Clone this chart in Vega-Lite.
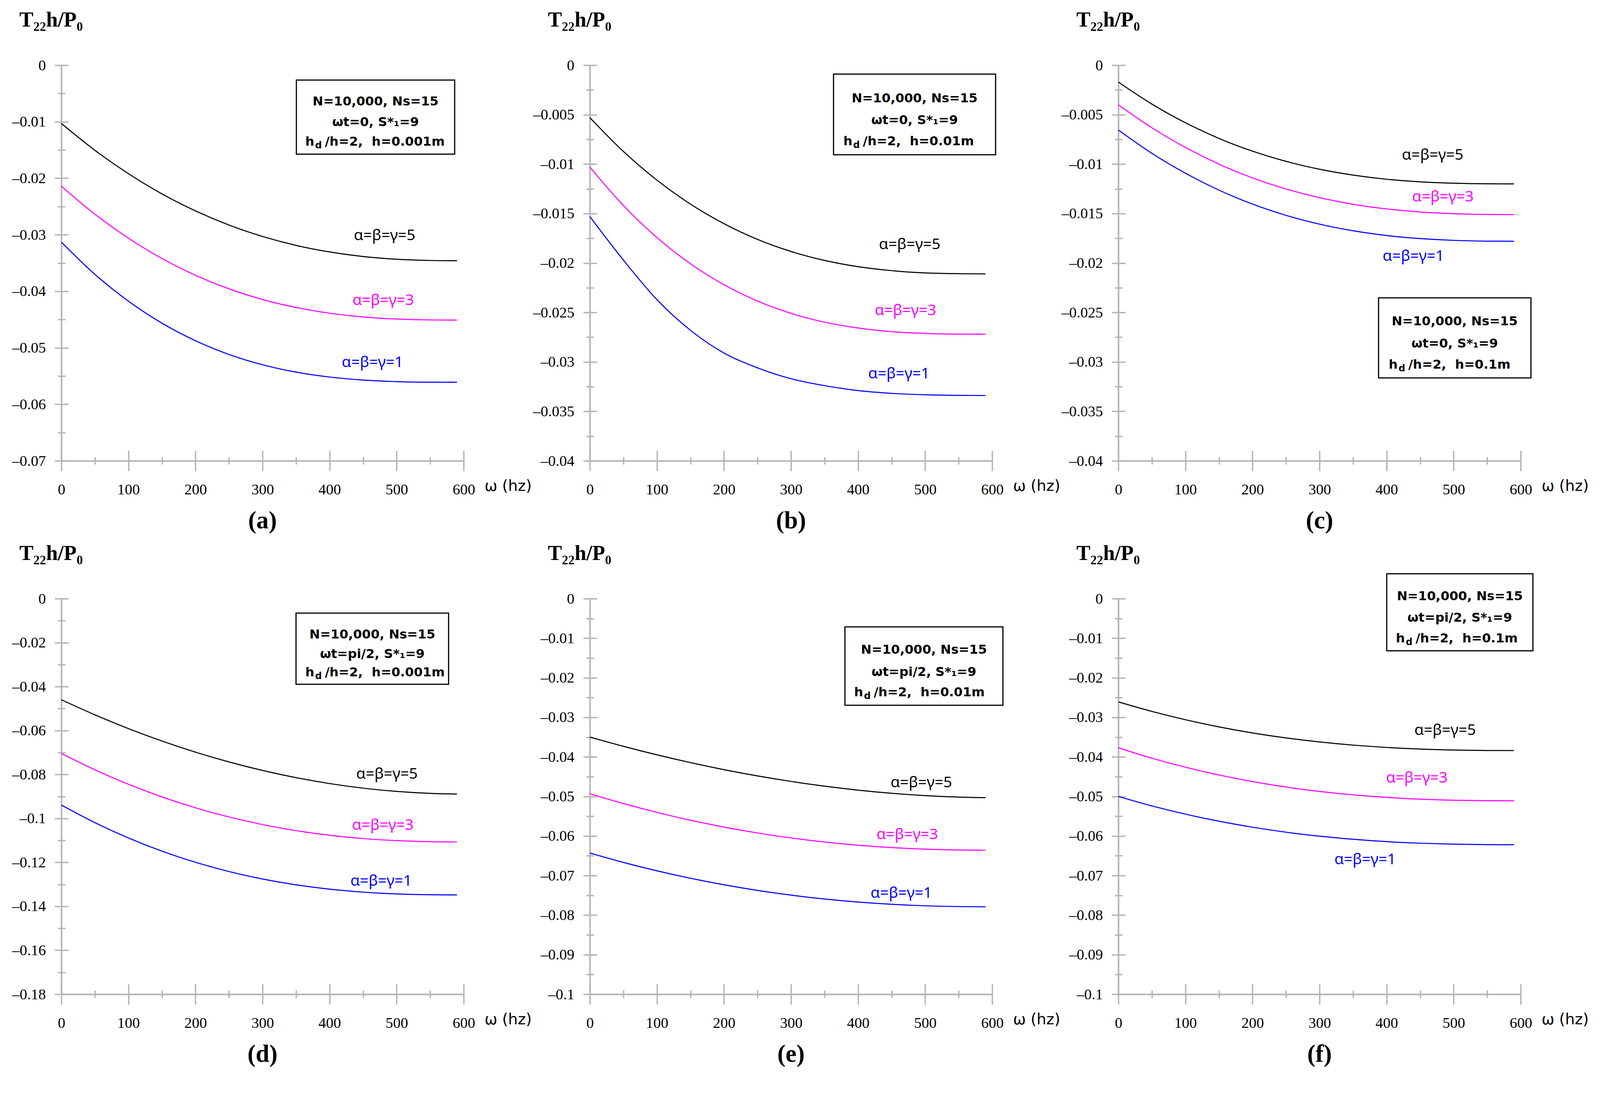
{
"$schema":"https://vega.github.io/schema/vega-lite/v6.json",
"background":"white",
"padding":{"left":30,"top":24,"right":0,"bottom":0},
"columns":3,
"bounds":"flush",
"spacing":{"row":353,"column":323},
"datasets":{
"curves":[
{"p":"a","x":0,"g5":-0.0103,"g3":-0.0214,"g1":-0.0313},
{"p":"a","x":50,"g5":-0.01505,"g3":-0.02636,"g1":-0.037},
{"p":"a","x":100,"g5":-0.01919,"g3":-0.03061,"g1":-0.04175},
{"p":"a","x":150,"g5":-0.02277,"g3":-0.0342,"g1":-0.04564},
{"p":"a","x":200,"g5":-0.02578,"g3":-0.03717,"g1":-0.04875},
{"p":"a","x":250,"g5":-0.02828,"g3":-0.03957,"g1":-0.05118},
{"p":"a","x":300,"g5":-0.0303,"g3":-0.04145,"g1":-0.053},
{"p":"a","x":350,"g5":-0.03188,"g3":-0.04287,"g1":-0.05431},
{"p":"a","x":400,"g5":-0.03304,"g3":-0.04388,"g1":-0.05518},
{"p":"a","x":450,"g5":-0.03385,"g3":-0.04454,"g1":-0.05571},
{"p":"a","x":500,"g5":-0.03433,"g3":-0.04491,"g1":-0.05599},
{"p":"a","x":550,"g5":-0.03455,"g3":-0.04507,"g1":-0.05609},
{"p":"a","x":590,"g5":-0.0346,"g3":-0.0451,"g1":-0.0561},
{"p":"b","x":0,"g5":-0.0053,"g3":-0.0103,"g1":-0.0153},
{"p":"b","x":50,"g5":-0.00872,"g3":-0.01418,"g1":-0.0197},
{"p":"b","x":100,"g5":-0.01162,"g3":-0.01742,"g1":-0.0237},
{"p":"b","x":150,"g5":-0.01404,"g3":-0.02007,"g1":-0.0268},
{"p":"b","x":200,"g5":-0.01602,"g3":-0.02219,"g1":-0.0291},
{"p":"b","x":250,"g5":-0.01761,"g3":-0.02385,"g1":-0.0306},
{"p":"b","x":300,"g5":-0.01883,"g3":-0.02509,"g1":-0.0317},
{"p":"b","x":350,"g5":-0.01974,"g3":-0.02598,"g1":-0.0324},
{"p":"b","x":400,"g5":-0.02037,"g3":-0.02657,"g1":-0.0329},
{"p":"b","x":450,"g5":-0.02077,"g3":-0.02694,"g1":-0.03318},
{"p":"b","x":500,"g5":-0.021,"g3":-0.02712,"g1":-0.03332},
{"p":"b","x":550,"g5":-0.02108,"g3":-0.02719,"g1":-0.03338},
{"p":"b","x":590,"g5":-0.0211,"g3":-0.0272,"g1":-0.0334},
{"p":"c","x":0,"g5":-0.0017,"g3":-0.004,"g1":-0.00655},
{"p":"c","x":50,"g5":-0.00393,"g3":-0.00632,"g1":-0.00891},
{"p":"c","x":100,"g5":-0.00582,"g3":-0.00831,"g1":-0.01092},
{"p":"c","x":150,"g5":-0.0074,"g3":-0.01,"g1":-0.01263},
{"p":"c","x":200,"g5":-0.00869,"g3":-0.01139,"g1":-0.01404},
{"p":"c","x":250,"g5":-0.00972,"g3":-0.01251,"g1":-0.01518},
{"p":"c","x":300,"g5":-0.01052,"g3":-0.01339,"g1":-0.01607},
{"p":"c","x":350,"g5":-0.01111,"g3":-0.01406,"g1":-0.01674},
{"p":"c","x":400,"g5":-0.01153,"g3":-0.01453,"g1":-0.01722},
{"p":"c","x":450,"g5":-0.01179,"g3":-0.01484,"g1":-0.01753},
{"p":"c","x":500,"g5":-0.01193,"g3":-0.01501,"g1":-0.01771},
{"p":"c","x":550,"g5":-0.01199,"g3":-0.01509,"g1":-0.01779},
{"p":"c","x":590,"g5":-0.012,"g3":-0.0151,"g1":-0.0178},
{"p":"d","x":0,"g5":-0.046,"g3":-0.0704,"g1":-0.0939},
{"p":"d","x":50,"g5":-0.05285,"g3":-0.07786,"g1":-0.1019},
{"p":"d","x":100,"g5":-0.05911,"g3":-0.08445,"g1":-0.10887},
{"p":"d","x":150,"g5":-0.06477,"g3":-0.0902,"g1":-0.11488},
{"p":"d","x":200,"g5":-0.06984,"g3":-0.09516,"g1":-0.11995},
{"p":"d","x":250,"g5":-0.0743,"g3":-0.09934,"g1":-0.12417},
{"p":"d","x":300,"g5":-0.07817,"g3":-0.10279,"g1":-0.12756},
{"p":"d","x":350,"g5":-0.08145,"g3":-0.10555,"g1":-0.13022},
{"p":"d","x":400,"g5":-0.08413,"g3":-0.10765,"g1":-0.13218},
{"p":"d","x":450,"g5":-0.08622,"g3":-0.10915,"g1":-0.13353},
{"p":"d","x":500,"g5":-0.08771,"g3":-0.1101,"g1":-0.13434},
{"p":"d","x":550,"g5":-0.0886,"g3":-0.11058,"g1":-0.13472},
{"p":"d","x":590,"g5":-0.0889,"g3":-0.1107,"g1":-0.1348},
{"p":"e","x":0,"g5":-0.035,"g3":-0.0493,"g1":-0.0643},
{"p":"e","x":50,"g5":-0.03733,"g3":-0.05179,"g1":-0.06667},
{"p":"e","x":100,"g5":-0.03948,"g3":-0.05402,"g1":-0.06879},
{"p":"e","x":150,"g5":-0.04144,"g3":-0.05601,"g1":-0.07068},
{"p":"e","x":200,"g5":-0.04322,"g3":-0.05774,"g1":-0.07233},
{"p":"e","x":250,"g5":-0.04481,"g3":-0.05923,"g1":-0.07375},
{"p":"e","x":300,"g5":-0.0462,"g3":-0.06049,"g1":-0.07494},
{"p":"e","x":350,"g5":-0.0474,"g3":-0.06152,"g1":-0.07592},
{"p":"e","x":400,"g5":-0.0484,"g3":-0.06232,"g1":-0.07669},
{"p":"e","x":450,"g5":-0.0492,"g3":-0.06292,"g1":-0.07726},
{"p":"e","x":500,"g5":-0.04979,"g3":-0.06332,"g1":-0.07764},
{"p":"e","x":550,"g5":-0.05016,"g3":-0.06354,"g1":-0.07784},
{"p":"e","x":590,"g5":-0.0503,"g3":-0.0636,"g1":-0.0779},
{"p":"f","x":0,"g5":-0.0261,"g3":-0.0377,"g1":-0.05},
{"p":"f","x":50,"g5":-0.0285,"g3":-0.04032,"g1":-0.05239},
{"p":"f","x":100,"g5":-0.0306,"g3":-0.0426,"g1":-0.05447},
{"p":"f","x":150,"g5":-0.03241,"g3":-0.04457,"g1":-0.05626},
{"p":"f","x":200,"g5":-0.03394,"g3":-0.04624,"g1":-0.05777},
{"p":"f","x":250,"g5":-0.0352,"g3":-0.04762,"g1":-0.05903},
{"p":"f","x":300,"g5":-0.03622,"g3":-0.04873,"g1":-0.06004},
{"p":"f","x":350,"g5":-0.03702,"g3":-0.0496,"g1":-0.06083},
{"p":"f","x":400,"g5":-0.03761,"g3":-0.05024,"g1":-0.06142},
{"p":"f","x":450,"g5":-0.03802,"g3":-0.05068,"g1":-0.06182},
{"p":"f","x":500,"g5":-0.03826,"g3":-0.05095,"g1":-0.06206},
{"p":"f","x":550,"g5":-0.03838,"g3":-0.05107,"g1":-0.06218},
{"p":"f","x":590,"g5":-0.0384,"g3":-0.0511,"g1":-0.0622}
],
"labels":[
{"p":"a","s":"g5","t":"α=β=γ=5","x":482,"y":-0.0301},
{"p":"a","s":"g3","t":"α=β=γ=3","x":480,"y":-0.0416},
{"p":"a","s":"g1","t":"α=β=γ=1","x":464,"y":-0.0526},
{"p":"b","s":"g5","t":"α=β=γ=5","x":476.9,"y":-0.01813},
{"p":"b","s":"g3","t":"α=β=γ=3","x":470.7,"y":-0.0248},
{"p":"b","s":"g1","t":"α=β=γ=1","x":461,"y":-0.03119},
{"p":"c","s":"g5","t":"α=β=γ=5","x":468.7,"y":-0.0091},
{"p":"c","s":"g3","t":"α=β=γ=3","x":484,"y":-0.01331},
{"p":"c","s":"g1","t":"α=β=γ=1","x":440,"y":-0.01931},
{"p":"d","s":"g5","t":"α=β=γ=5","x":485.6,"y":-0.0797},
{"p":"d","s":"g3","t":"α=β=γ=3","x":479.4,"y":-0.103},
{"p":"d","s":"g1","t":"α=β=γ=1","x":476.9,"y":-0.1285},
{"p":"e","s":"g5","t":"α=β=γ=5","x":494.3,"y":-0.0465},
{"p":"e","s":"g3","t":"α=β=γ=3","x":473.3,"y":-0.0596},
{"p":"e","s":"g1","t":"α=β=γ=1","x":464.5,"y":-0.0744},
{"p":"f","s":"g5","t":"α=β=γ=5","x":487.3,"y":-0.0333},
{"p":"f","s":"g3","t":"α=β=γ=3","x":445,"y":-0.0453},
{"p":"f","s":"g1","t":"α=β=γ=1","x":368,"y":-0.0659}
],
"boxes":[
{"p":"a","x1":350.5,"x2":586.6,"y1":-0.00262,"y2":-0.01573},
{"p":"b","x1":363.4,"x2":605.1,"y1":-0.0009,"y2":-0.00905},
{"p":"c","x1":388,"x2":615.3,"y1":-0.02352,"y2":-0.03162},
{"p":"d","x1":350,"x2":577.5,"y1":-0.00657,"y2":-0.03897},
{"p":"e","x1":380.4,"x2":616,"y1":-0.00713,"y2":-0.02696},
{"p":"f","x1":400.2,"x2":618.2,"y1":0.00629,"y2":-0.01317}
],
"boxtext":[
{"p":"a","x":468.6,"y":-0.00646,"t":"N=10,000, Ns=15"},
{"p":"a","x":468.6,"y":-0.01012,"t":"ωt=0, S*₁=9"},
{"p":"b","x":484.3,"y":-0.00335,"t":"N=10,000, Ns=15"},
{"p":"b","x":484.3,"y":-0.00556,"t":"ωt=0, S*₁=9"},
{"p":"c","x":501.6,"y":-0.02589,"t":"N=10,000, Ns=15"},
{"p":"c","x":501.6,"y":-0.02814,"t":"ωt=0, S*₁=9"},
{"p":"d","x":463.8,"y":-0.01628,"t":"N=10,000, Ns=15"},
{"p":"d","x":463.8,"y":-0.0252,"t":"ωt=pi/2, S*₁=9"},
{"p":"e","x":498.2,"y":-0.01296,"t":"N=10,000, Ns=15"},
{"p":"e","x":498.2,"y":-0.01852,"t":"ωt=pi/2, S*₁=9"},
{"p":"f","x":509.2,"y":0.0006,"t":"N=10,000, Ns=15"},
{"p":"f","x":509.2,"y":-0.00484,"t":"ωt=pi/2, S*₁=9"}
],
"line3":[
{"p":"a","x":377.3,"y":-0.01354,"t":"/h=2,\u00a0 h=0.001m"},
{"p":"b","x":391.5,"y":-0.0077,"t":"/h=2,\u00a0 h=0.01m"},
{"p":"c","x":416.6,"y":-0.03027,"t":"/h=2,\u00a0 h=0.1m"},
{"p":"d","x":377.3,"y":-0.03365,"t":"/h=2,\u00a0 h=0.001m"},
{"p":"e","x":407.6,"y":-0.02374,"t":"/h=2,\u00a0 h=0.01m"},
{"p":"f","x":427.4,"y":-0.01011,"t":"/h=2,\u00a0 h=0.1m"}
]
},
"concat":[
{"width":1030,"height":1013,"title":{"text":"(a)","orient":"bottom"},
"layer":[
{"data":{"name":"curves"},"transform":[{"filter":"datum.p=='a'"},{"fold":["g5","g3","g1"],"as":["s","y"]}],"mark":{"type":"line","strokeWidth":2.7,"interpolate":"monotone"},
"encoding":{"x":{"field":"x","type":"quantitative","scale":{"domain":[0,600],"nice":false},"axis":{"orient":"bottom","values":[0,100,200,300,400,500,600],"ticks":false,"tickSize":0,"format":"d","title":"ω (hz)","titleFont":"DejaVu Sans","titleFontSize":39,"titleFontWeight":"normal","titleAlign":"left","titleBaseline":"alphabetic","titleX":1083,"titleY":76}},
"y":{"field":"y","type":"quantitative","scale":{"domain":[-0.07,0],"nice":false,"zero":false},"axis":{"orient":"left","values":[0,-0.01,-0.02,-0.03,-0.04,-0.05,-0.06,-0.07],"ticks":false,"tickSize":0,"labelExpr":"datum.value == 0 ? '0' : '–' + format(abs(datum.value), '~g')","title":"T₂₂h/P₀","titleFont":"Liberation Serif","titleFontWeight":"bold","titleFontSize":54,"titleAngle":0,"titleAlign":"left","titleBaseline":"alphabetic","titleX":-108,"titleY":-100}},
"color":{"field":"s","type":"nominal","scale":{"domain":["g5","g3","g1"],"range":["#000000","#ff00ff","#0000ff"]},"legend":null}}},
{"data":{"name":"labels"},"transform":[{"filter":"datum.p=='a'"}],"mark":{"type":"text","font":"Noto Sans","fontSize":39},
"encoding":{"x":{"field":"x","type":"quantitative","scale":{"domain":[0,600],"nice":false},"axis":{"orient":"bottom","values":[0,100,200,300,400,500,600],"offset":-26,"tickSize":52,"domain":false,"labels":false,"title":null}},
"y":{"field":"y","type":"quantitative","scale":{"domain":[-0.07,0],"nice":false,"zero":false},"axis":{"orient":"left","values":[0,-0.01,-0.02,-0.03,-0.04,-0.05,-0.06,-0.07],"offset":-18,"tickSize":35,"domain":false,"labels":false,"title":null}},
"text":{"field":"t"},
"color":{"field":"s","type":"nominal","scale":{"domain":["g5","g3","g1"],"range":["#000000","#ff00ff","#0000ff"]},"legend":null}}},
{"data":{"name":"boxes"},"transform":[{"filter":"datum.p=='a'"}],"mark":{"type":"rect","filled":false,"stroke":"black","strokeWidth":3},
"encoding":{"x":{"field":"x1","type":"quantitative","scale":{"domain":[0,600],"nice":false},"axis":{"orient":"bottom","values":[50,150,250,350,450,550],"offset":-10,"tickSize":19,"domain":false,"labels":false,"title":null}},"x2":{"field":"x2"},
"y":{"field":"y1","type":"quantitative","scale":{"domain":[-0.07,0],"nice":false,"zero":false},"axis":{"orient":"left","values":[-0.005,-0.015,-0.025,-0.035,-0.045,-0.055,-0.065],"offset":-10,"tickSize":19,"domain":false,"labels":false,"title":null}},"y2":{"field":"y2"}}},
{"data":{"name":"boxtext"},"transform":[{"filter":"datum.p=='a'"}],"mark":{"type":"text","font":"DejaVu Sans","fontWeight":"bold","fontSize":32.5,"color":"black"},
"encoding":{"x":{"field":"x","type":"quantitative","axis":null},"y":{"field":"y","type":"quantitative","axis":null},"text":{"field":"t"}}},
{"data":{"name":"line3"},"transform":[{"filter":"datum.p=='a'"}],"mark":{"type":"text","font":"DejaVu Sans","fontWeight":"bold","fontSize":32.5,"color":"black","align":"right","text":"h"},
"encoding":{"x":{"field":"x","type":"quantitative","axis":null},"y":{"field":"y","type":"quantitative","axis":null}}},
{"data":{"name":"line3"},"transform":[{"filter":"datum.p=='a'"}],"mark":{"type":"text","font":"DejaVu Sans","fontWeight":"bold","fontSize":24,"color":"black","align":"left","dx":2,"dy":10,"text":"d"},
"encoding":{"x":{"field":"x","type":"quantitative","axis":null},"y":{"field":"y","type":"quantitative","axis":null}}},
{"data":{"name":"line3"},"transform":[{"filter":"datum.p=='a'"}],"mark":{"type":"text","font":"DejaVu Sans","fontWeight":"bold","fontSize":32.5,"color":"black","align":"left","dx":27},
"encoding":{"x":{"field":"x","type":"quantitative","axis":null},"y":{"field":"y","type":"quantitative","axis":null},"text":{"field":"t"}}}
],
"resolve":{"axis":{"x":"independent","y":"independent"}}},

{"width":1030,"height":1013,"title":{"text":"(b)","orient":"bottom"},
"layer":[
{"data":{"name":"curves"},"transform":[{"filter":"datum.p=='b'"},{"fold":["g5","g3","g1"],"as":["s","y"]}],"mark":{"type":"line","strokeWidth":2.7,"interpolate":"monotone"},
"encoding":{"x":{"field":"x","type":"quantitative","scale":{"domain":[0,600],"nice":false},"axis":{"orient":"bottom","values":[0,100,200,300,400,500,600],"ticks":false,"tickSize":0,"format":"d","title":"ω (hz)","titleFont":"DejaVu Sans","titleFontSize":39,"titleFontWeight":"normal","titleAlign":"left","titleBaseline":"alphabetic","titleX":1083,"titleY":76}},
"y":{"field":"y","type":"quantitative","scale":{"domain":[-0.04,0],"nice":false,"zero":false},"axis":{"orient":"left","values":[0,-0.005,-0.01,-0.015,-0.02,-0.025,-0.03,-0.035,-0.04],"ticks":false,"tickSize":0,"labelExpr":"datum.value == 0 ? '0' : '–' + format(abs(datum.value), '~g')","title":"T₂₂h/P₀","titleFont":"Liberation Serif","titleFontWeight":"bold","titleFontSize":54,"titleAngle":0,"titleAlign":"left","titleBaseline":"alphabetic","titleX":-108,"titleY":-100}},
"color":{"field":"s","type":"nominal","scale":{"domain":["g5","g3","g1"],"range":["#000000","#ff00ff","#0000ff"]},"legend":null}}},
{"data":{"name":"labels"},"transform":[{"filter":"datum.p=='b'"}],"mark":{"type":"text","font":"Noto Sans","fontSize":39},
"encoding":{"x":{"field":"x","type":"quantitative","scale":{"domain":[0,600],"nice":false},"axis":{"orient":"bottom","values":[0,100,200,300,400,500,600],"offset":-26,"tickSize":52,"domain":false,"labels":false,"title":null}},
"y":{"field":"y","type":"quantitative","scale":{"domain":[-0.04,0],"nice":false,"zero":false},"axis":{"orient":"left","values":[0,-0.005,-0.01,-0.015,-0.02,-0.025,-0.03,-0.035,-0.04],"offset":-18,"tickSize":35,"domain":false,"labels":false,"title":null}},
"text":{"field":"t"},
"color":{"field":"s","type":"nominal","scale":{"domain":["g5","g3","g1"],"range":["#000000","#ff00ff","#0000ff"]},"legend":null}}},
{"data":{"name":"boxes"},"transform":[{"filter":"datum.p=='b'"}],"mark":{"type":"rect","filled":false,"stroke":"black","strokeWidth":3},
"encoding":{"x":{"field":"x1","type":"quantitative","scale":{"domain":[0,600],"nice":false},"axis":{"orient":"bottom","values":[50,150,250,350,450,550],"offset":-10,"tickSize":19,"domain":false,"labels":false,"title":null}},"x2":{"field":"x2"},
"y":{"field":"y1","type":"quantitative","scale":{"domain":[-0.04,0],"nice":false,"zero":false},"axis":{"orient":"left","values":[-0.0025,-0.0075,-0.0125,-0.0175,-0.0225,-0.0275,-0.0325,-0.0375],"offset":-10,"tickSize":19,"domain":false,"labels":false,"title":null}},"y2":{"field":"y2"}}},
{"data":{"name":"boxtext"},"transform":[{"filter":"datum.p=='b'"}],"mark":{"type":"text","font":"DejaVu Sans","fontWeight":"bold","fontSize":32.5,"color":"black"},
"encoding":{"x":{"field":"x","type":"quantitative","axis":null},"y":{"field":"y","type":"quantitative","axis":null},"text":{"field":"t"}}},
{"data":{"name":"line3"},"transform":[{"filter":"datum.p=='b'"}],"mark":{"type":"text","font":"DejaVu Sans","fontWeight":"bold","fontSize":32.5,"color":"black","align":"right","text":"h"},
"encoding":{"x":{"field":"x","type":"quantitative","axis":null},"y":{"field":"y","type":"quantitative","axis":null}}},
{"data":{"name":"line3"},"transform":[{"filter":"datum.p=='b'"}],"mark":{"type":"text","font":"DejaVu Sans","fontWeight":"bold","fontSize":24,"color":"black","align":"left","dx":2,"dy":10,"text":"d"},
"encoding":{"x":{"field":"x","type":"quantitative","axis":null},"y":{"field":"y","type":"quantitative","axis":null}}},
{"data":{"name":"line3"},"transform":[{"filter":"datum.p=='b'"}],"mark":{"type":"text","font":"DejaVu Sans","fontWeight":"bold","fontSize":32.5,"color":"black","align":"left","dx":27},
"encoding":{"x":{"field":"x","type":"quantitative","axis":null},"y":{"field":"y","type":"quantitative","axis":null},"text":{"field":"t"}}}
],
"resolve":{"axis":{"x":"independent","y":"independent"}}},

{"width":1030,"height":1013,"title":{"text":"(c)","orient":"bottom"},
"layer":[
{"data":{"name":"curves"},"transform":[{"filter":"datum.p=='c'"},{"fold":["g5","g3","g1"],"as":["s","y"]}],"mark":{"type":"line","strokeWidth":2.7,"interpolate":"monotone"},
"encoding":{"x":{"field":"x","type":"quantitative","scale":{"domain":[0,600],"nice":false},"axis":{"orient":"bottom","values":[0,100,200,300,400,500,600],"ticks":false,"tickSize":0,"format":"d","title":"ω (hz)","titleFont":"DejaVu Sans","titleFontSize":39,"titleFontWeight":"normal","titleAlign":"left","titleBaseline":"alphabetic","titleX":1083,"titleY":76}},
"y":{"field":"y","type":"quantitative","scale":{"domain":[-0.04,0],"nice":false,"zero":false},"axis":{"orient":"left","values":[0,-0.005,-0.01,-0.015,-0.02,-0.025,-0.03,-0.035,-0.04],"ticks":false,"tickSize":0,"labelExpr":"datum.value == 0 ? '0' : '–' + format(abs(datum.value), '~g')","title":"T₂₂h/P₀","titleFont":"Liberation Serif","titleFontWeight":"bold","titleFontSize":54,"titleAngle":0,"titleAlign":"left","titleBaseline":"alphabetic","titleX":-108,"titleY":-100}},
"color":{"field":"s","type":"nominal","scale":{"domain":["g5","g3","g1"],"range":["#000000","#ff00ff","#0000ff"]},"legend":null}}},
{"data":{"name":"labels"},"transform":[{"filter":"datum.p=='c'"}],"mark":{"type":"text","font":"Noto Sans","fontSize":39},
"encoding":{"x":{"field":"x","type":"quantitative","scale":{"domain":[0,600],"nice":false},"axis":{"orient":"bottom","values":[0,100,200,300,400,500,600],"offset":-26,"tickSize":52,"domain":false,"labels":false,"title":null}},
"y":{"field":"y","type":"quantitative","scale":{"domain":[-0.04,0],"nice":false,"zero":false},"axis":{"orient":"left","values":[0,-0.005,-0.01,-0.015,-0.02,-0.025,-0.03,-0.035,-0.04],"offset":-18,"tickSize":35,"domain":false,"labels":false,"title":null}},
"text":{"field":"t"},
"color":{"field":"s","type":"nominal","scale":{"domain":["g5","g3","g1"],"range":["#000000","#ff00ff","#0000ff"]},"legend":null}}},
{"data":{"name":"boxes"},"transform":[{"filter":"datum.p=='c'"}],"mark":{"type":"rect","filled":false,"stroke":"black","strokeWidth":3},
"encoding":{"x":{"field":"x1","type":"quantitative","scale":{"domain":[0,600],"nice":false},"axis":{"orient":"bottom","values":[50,150,250,350,450,550],"offset":-10,"tickSize":19,"domain":false,"labels":false,"title":null}},"x2":{"field":"x2"},
"y":{"field":"y1","type":"quantitative","scale":{"domain":[-0.04,0],"nice":false,"zero":false},"axis":{"orient":"left","values":[-0.0025,-0.0075,-0.0125,-0.0175,-0.0225,-0.0275,-0.0325,-0.0375],"offset":-10,"tickSize":19,"domain":false,"labels":false,"title":null}},"y2":{"field":"y2"}}},
{"data":{"name":"boxtext"},"transform":[{"filter":"datum.p=='c'"}],"mark":{"type":"text","font":"DejaVu Sans","fontWeight":"bold","fontSize":32.5,"color":"black"},
"encoding":{"x":{"field":"x","type":"quantitative","axis":null},"y":{"field":"y","type":"quantitative","axis":null},"text":{"field":"t"}}},
{"data":{"name":"line3"},"transform":[{"filter":"datum.p=='c'"}],"mark":{"type":"text","font":"DejaVu Sans","fontWeight":"bold","fontSize":32.5,"color":"black","align":"right","text":"h"},
"encoding":{"x":{"field":"x","type":"quantitative","axis":null},"y":{"field":"y","type":"quantitative","axis":null}}},
{"data":{"name":"line3"},"transform":[{"filter":"datum.p=='c'"}],"mark":{"type":"text","font":"DejaVu Sans","fontWeight":"bold","fontSize":24,"color":"black","align":"left","dx":2,"dy":10,"text":"d"},
"encoding":{"x":{"field":"x","type":"quantitative","axis":null},"y":{"field":"y","type":"quantitative","axis":null}}},
{"data":{"name":"line3"},"transform":[{"filter":"datum.p=='c'"}],"mark":{"type":"text","font":"DejaVu Sans","fontWeight":"bold","fontSize":32.5,"color":"black","align":"left","dx":27},
"encoding":{"x":{"field":"x","type":"quantitative","axis":null},"y":{"field":"y","type":"quantitative","axis":null},"text":{"field":"t"}}}
],
"resolve":{"axis":{"x":"independent","y":"independent"}}},

{"width":1030,"height":1013,"title":{"text":"(d)","orient":"bottom"},
"layer":[
{"data":{"name":"curves"},"transform":[{"filter":"datum.p=='d'"},{"fold":["g5","g3","g1"],"as":["s","y"]}],"mark":{"type":"line","strokeWidth":2.7,"interpolate":"monotone"},
"encoding":{"x":{"field":"x","type":"quantitative","scale":{"domain":[0,600],"nice":false},"axis":{"orient":"bottom","values":[0,100,200,300,400,500,600],"ticks":false,"tickSize":0,"format":"d","title":"ω (hz)","titleFont":"DejaVu Sans","titleFontSize":39,"titleFontWeight":"normal","titleAlign":"left","titleBaseline":"alphabetic","titleX":1083,"titleY":76}},
"y":{"field":"y","type":"quantitative","scale":{"domain":[-0.18,0],"nice":false,"zero":false},"axis":{"orient":"left","values":[0,-0.02,-0.04,-0.06,-0.08,-0.1,-0.12,-0.14,-0.16,-0.18],"ticks":false,"tickSize":0,"labelExpr":"datum.value == 0 ? '0' : '–' + format(abs(datum.value), '~g')","title":"T₂₂h/P₀","titleFont":"Liberation Serif","titleFontWeight":"bold","titleFontSize":54,"titleAngle":0,"titleAlign":"left","titleBaseline":"alphabetic","titleX":-108,"titleY":-100}},
"color":{"field":"s","type":"nominal","scale":{"domain":["g5","g3","g1"],"range":["#000000","#ff00ff","#0000ff"]},"legend":null}}},
{"data":{"name":"labels"},"transform":[{"filter":"datum.p=='d'"}],"mark":{"type":"text","font":"Noto Sans","fontSize":39},
"encoding":{"x":{"field":"x","type":"quantitative","scale":{"domain":[0,600],"nice":false},"axis":{"orient":"bottom","values":[0,100,200,300,400,500,600],"offset":-26,"tickSize":52,"domain":false,"labels":false,"title":null}},
"y":{"field":"y","type":"quantitative","scale":{"domain":[-0.18,0],"nice":false,"zero":false},"axis":{"orient":"left","values":[0,-0.02,-0.04,-0.06,-0.08,-0.1,-0.12,-0.14,-0.16,-0.18],"offset":-18,"tickSize":35,"domain":false,"labels":false,"title":null}},
"text":{"field":"t"},
"color":{"field":"s","type":"nominal","scale":{"domain":["g5","g3","g1"],"range":["#000000","#ff00ff","#0000ff"]},"legend":null}}},
{"data":{"name":"boxes"},"transform":[{"filter":"datum.p=='d'"}],"mark":{"type":"rect","filled":false,"stroke":"black","strokeWidth":3},
"encoding":{"x":{"field":"x1","type":"quantitative","scale":{"domain":[0,600],"nice":false},"axis":{"orient":"bottom","values":[50,150,250,350,450,550],"offset":-10,"tickSize":19,"domain":false,"labels":false,"title":null}},"x2":{"field":"x2"},
"y":{"field":"y1","type":"quantitative","scale":{"domain":[-0.18,0],"nice":false,"zero":false},"axis":{"orient":"left","values":[-0.01,-0.03,-0.05,-0.07,-0.09,-0.11,-0.13,-0.15,-0.17],"offset":-10,"tickSize":19,"domain":false,"labels":false,"title":null}},"y2":{"field":"y2"}}},
{"data":{"name":"boxtext"},"transform":[{"filter":"datum.p=='d'"}],"mark":{"type":"text","font":"DejaVu Sans","fontWeight":"bold","fontSize":32.5,"color":"black"},
"encoding":{"x":{"field":"x","type":"quantitative","axis":null},"y":{"field":"y","type":"quantitative","axis":null},"text":{"field":"t"}}},
{"data":{"name":"line3"},"transform":[{"filter":"datum.p=='d'"}],"mark":{"type":"text","font":"DejaVu Sans","fontWeight":"bold","fontSize":32.5,"color":"black","align":"right","text":"h"},
"encoding":{"x":{"field":"x","type":"quantitative","axis":null},"y":{"field":"y","type":"quantitative","axis":null}}},
{"data":{"name":"line3"},"transform":[{"filter":"datum.p=='d'"}],"mark":{"type":"text","font":"DejaVu Sans","fontWeight":"bold","fontSize":24,"color":"black","align":"left","dx":2,"dy":10,"text":"d"},
"encoding":{"x":{"field":"x","type":"quantitative","axis":null},"y":{"field":"y","type":"quantitative","axis":null}}},
{"data":{"name":"line3"},"transform":[{"filter":"datum.p=='d'"}],"mark":{"type":"text","font":"DejaVu Sans","fontWeight":"bold","fontSize":32.5,"color":"black","align":"left","dx":27},
"encoding":{"x":{"field":"x","type":"quantitative","axis":null},"y":{"field":"y","type":"quantitative","axis":null},"text":{"field":"t"}}}
],
"resolve":{"axis":{"x":"independent","y":"independent"}}},

{"width":1030,"height":1013,"title":{"text":"(e)","orient":"bottom"},
"layer":[
{"data":{"name":"curves"},"transform":[{"filter":"datum.p=='e'"},{"fold":["g5","g3","g1"],"as":["s","y"]}],"mark":{"type":"line","strokeWidth":2.7,"interpolate":"monotone"},
"encoding":{"x":{"field":"x","type":"quantitative","scale":{"domain":[0,600],"nice":false},"axis":{"orient":"bottom","values":[0,100,200,300,400,500,600],"ticks":false,"tickSize":0,"format":"d","title":"ω (hz)","titleFont":"DejaVu Sans","titleFontSize":39,"titleFontWeight":"normal","titleAlign":"left","titleBaseline":"alphabetic","titleX":1083,"titleY":76}},
"y":{"field":"y","type":"quantitative","scale":{"domain":[-0.1,0],"nice":false,"zero":false},"axis":{"orient":"left","values":[0,-0.01,-0.02,-0.03,-0.04,-0.05,-0.06,-0.07,-0.08,-0.09,-0.1],"ticks":false,"tickSize":0,"labelExpr":"datum.value == 0 ? '0' : '–' + format(abs(datum.value), '~g')","title":"T₂₂h/P₀","titleFont":"Liberation Serif","titleFontWeight":"bold","titleFontSize":54,"titleAngle":0,"titleAlign":"left","titleBaseline":"alphabetic","titleX":-108,"titleY":-100}},
"color":{"field":"s","type":"nominal","scale":{"domain":["g5","g3","g1"],"range":["#000000","#ff00ff","#0000ff"]},"legend":null}}},
{"data":{"name":"labels"},"transform":[{"filter":"datum.p=='e'"}],"mark":{"type":"text","font":"Noto Sans","fontSize":39},
"encoding":{"x":{"field":"x","type":"quantitative","scale":{"domain":[0,600],"nice":false},"axis":{"orient":"bottom","values":[0,100,200,300,400,500,600],"offset":-26,"tickSize":52,"domain":false,"labels":false,"title":null}},
"y":{"field":"y","type":"quantitative","scale":{"domain":[-0.1,0],"nice":false,"zero":false},"axis":{"orient":"left","values":[0,-0.01,-0.02,-0.03,-0.04,-0.05,-0.06,-0.07,-0.08,-0.09,-0.1],"offset":-18,"tickSize":35,"domain":false,"labels":false,"title":null}},
"text":{"field":"t"},
"color":{"field":"s","type":"nominal","scale":{"domain":["g5","g3","g1"],"range":["#000000","#ff00ff","#0000ff"]},"legend":null}}},
{"data":{"name":"boxes"},"transform":[{"filter":"datum.p=='e'"}],"mark":{"type":"rect","filled":false,"stroke":"black","strokeWidth":3},
"encoding":{"x":{"field":"x1","type":"quantitative","scale":{"domain":[0,600],"nice":false},"axis":{"orient":"bottom","values":[50,150,250,350,450,550],"offset":-10,"tickSize":19,"domain":false,"labels":false,"title":null}},"x2":{"field":"x2"},
"y":{"field":"y1","type":"quantitative","scale":{"domain":[-0.1,0],"nice":false,"zero":false},"axis":{"orient":"left","values":[-0.005,-0.015,-0.025,-0.035,-0.045,-0.055,-0.065,-0.075,-0.085,-0.095],"offset":-10,"tickSize":19,"domain":false,"labels":false,"title":null}},"y2":{"field":"y2"}}},
{"data":{"name":"boxtext"},"transform":[{"filter":"datum.p=='e'"}],"mark":{"type":"text","font":"DejaVu Sans","fontWeight":"bold","fontSize":32.5,"color":"black"},
"encoding":{"x":{"field":"x","type":"quantitative","axis":null},"y":{"field":"y","type":"quantitative","axis":null},"text":{"field":"t"}}},
{"data":{"name":"line3"},"transform":[{"filter":"datum.p=='e'"}],"mark":{"type":"text","font":"DejaVu Sans","fontWeight":"bold","fontSize":32.5,"color":"black","align":"right","text":"h"},
"encoding":{"x":{"field":"x","type":"quantitative","axis":null},"y":{"field":"y","type":"quantitative","axis":null}}},
{"data":{"name":"line3"},"transform":[{"filter":"datum.p=='e'"}],"mark":{"type":"text","font":"DejaVu Sans","fontWeight":"bold","fontSize":24,"color":"black","align":"left","dx":2,"dy":10,"text":"d"},
"encoding":{"x":{"field":"x","type":"quantitative","axis":null},"y":{"field":"y","type":"quantitative","axis":null}}},
{"data":{"name":"line3"},"transform":[{"filter":"datum.p=='e'"}],"mark":{"type":"text","font":"DejaVu Sans","fontWeight":"bold","fontSize":32.5,"color":"black","align":"left","dx":27},
"encoding":{"x":{"field":"x","type":"quantitative","axis":null},"y":{"field":"y","type":"quantitative","axis":null},"text":{"field":"t"}}}
],
"resolve":{"axis":{"x":"independent","y":"independent"}}},

{"width":1030,"height":1013,"title":{"text":"(f)","orient":"bottom"},
"layer":[
{"data":{"name":"curves"},"transform":[{"filter":"datum.p=='f'"},{"fold":["g5","g3","g1"],"as":["s","y"]}],"mark":{"type":"line","strokeWidth":2.7,"interpolate":"monotone"},
"encoding":{"x":{"field":"x","type":"quantitative","scale":{"domain":[0,600],"nice":false},"axis":{"orient":"bottom","values":[0,100,200,300,400,500,600],"ticks":false,"tickSize":0,"format":"d","title":"ω (hz)","titleFont":"DejaVu Sans","titleFontSize":39,"titleFontWeight":"normal","titleAlign":"left","titleBaseline":"alphabetic","titleX":1083,"titleY":76}},
"y":{"field":"y","type":"quantitative","scale":{"domain":[-0.1,0],"nice":false,"zero":false},"axis":{"orient":"left","values":[0,-0.01,-0.02,-0.03,-0.04,-0.05,-0.06,-0.07,-0.08,-0.09,-0.1],"ticks":false,"tickSize":0,"labelExpr":"datum.value == 0 ? '0' : '–' + format(abs(datum.value), '~g')","title":"T₂₂h/P₀","titleFont":"Liberation Serif","titleFontWeight":"bold","titleFontSize":54,"titleAngle":0,"titleAlign":"left","titleBaseline":"alphabetic","titleX":-108,"titleY":-100}},
"color":{"field":"s","type":"nominal","scale":{"domain":["g5","g3","g1"],"range":["#000000","#ff00ff","#0000ff"]},"legend":null}}},
{"data":{"name":"labels"},"transform":[{"filter":"datum.p=='f'"}],"mark":{"type":"text","font":"Noto Sans","fontSize":39},
"encoding":{"x":{"field":"x","type":"quantitative","scale":{"domain":[0,600],"nice":false},"axis":{"orient":"bottom","values":[0,100,200,300,400,500,600],"offset":-26,"tickSize":52,"domain":false,"labels":false,"title":null}},
"y":{"field":"y","type":"quantitative","scale":{"domain":[-0.1,0],"nice":false,"zero":false},"axis":{"orient":"left","values":[0,-0.01,-0.02,-0.03,-0.04,-0.05,-0.06,-0.07,-0.08,-0.09,-0.1],"offset":-18,"tickSize":35,"domain":false,"labels":false,"title":null}},
"text":{"field":"t"},
"color":{"field":"s","type":"nominal","scale":{"domain":["g5","g3","g1"],"range":["#000000","#ff00ff","#0000ff"]},"legend":null}}},
{"data":{"name":"boxes"},"transform":[{"filter":"datum.p=='f'"}],"mark":{"type":"rect","filled":false,"stroke":"black","strokeWidth":3},
"encoding":{"x":{"field":"x1","type":"quantitative","scale":{"domain":[0,600],"nice":false},"axis":{"orient":"bottom","values":[50,150,250,350,450,550],"offset":-10,"tickSize":19,"domain":false,"labels":false,"title":null}},"x2":{"field":"x2"},
"y":{"field":"y1","type":"quantitative","scale":{"domain":[-0.1,0],"nice":false,"zero":false},"axis":{"orient":"left","values":[-0.005,-0.015,-0.025,-0.035,-0.045,-0.055,-0.065,-0.075,-0.085,-0.095],"offset":-10,"tickSize":19,"domain":false,"labels":false,"title":null}},"y2":{"field":"y2"}}},
{"data":{"name":"boxtext"},"transform":[{"filter":"datum.p=='f'"}],"mark":{"type":"text","font":"DejaVu Sans","fontWeight":"bold","fontSize":32.5,"color":"black"},
"encoding":{"x":{"field":"x","type":"quantitative","axis":null},"y":{"field":"y","type":"quantitative","axis":null},"text":{"field":"t"}}},
{"data":{"name":"line3"},"transform":[{"filter":"datum.p=='f'"}],"mark":{"type":"text","font":"DejaVu Sans","fontWeight":"bold","fontSize":32.5,"color":"black","align":"right","text":"h"},
"encoding":{"x":{"field":"x","type":"quantitative","axis":null},"y":{"field":"y","type":"quantitative","axis":null}}},
{"data":{"name":"line3"},"transform":[{"filter":"datum.p=='f'"}],"mark":{"type":"text","font":"DejaVu Sans","fontWeight":"bold","fontSize":24,"color":"black","align":"left","dx":2,"dy":10,"text":"d"},
"encoding":{"x":{"field":"x","type":"quantitative","axis":null},"y":{"field":"y","type":"quantitative","axis":null}}},
{"data":{"name":"line3"},"transform":[{"filter":"datum.p=='f'"}],"mark":{"type":"text","font":"DejaVu Sans","fontWeight":"bold","fontSize":32.5,"color":"black","align":"left","dx":27},
"encoding":{"x":{"field":"x","type":"quantitative","axis":null},"y":{"field":"y","type":"quantitative","axis":null},"text":{"field":"t"}}}
],
"resolve":{"axis":{"x":"independent","y":"independent"}}}
],
"config":{
"view":{"stroke":null},
"axis":{"grid":false,"tickColor":"#b4b4b4","tickWidth":3.5,"domainColor":"#b4b4b4","domainWidth":4,"labelFont":"Liberation Serif","labelFontSize":38.5,"labelColor":"black","labelFlush":false,"labelOverlap":false,"titleColor":"black"},
"axisLeft":{"labelPadding":40,"labelBaseline":"middle"},
"axisBottom":{"labelPadding":85,"labelBaseline":"alphabetic"},
"title":{"font":"Liberation Serif","fontSize":63,"fontWeight":"bold","color":"black","offset":30}
}
}
